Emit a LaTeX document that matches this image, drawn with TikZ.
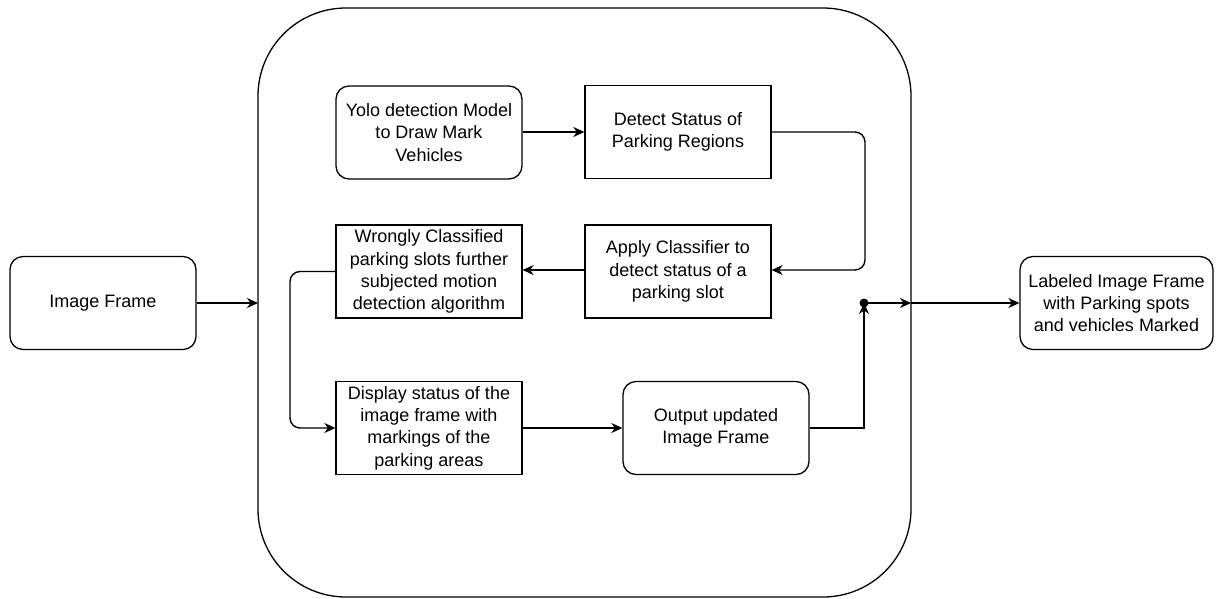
\documentclass[tikz,border=0pt]{standalone}
\usepackage{fontspec}
\setmainfont{Liberation Sans}
\usetikzlibrary{arrows.meta}
\begin{document}
\begin{tikzpicture}[x=1pt,y=-1pt,
  box/.style={draw,line width=1.3pt,minimum width=186pt,minimum height=93pt,align=center,inner sep=0pt,font=\fontsize{18}{22.3}\selectfont},
  rbox/.style={box,rounded corners=13pt},
  conn/.style={line width=1.4pt,-{Stealth[length=11pt,width=10pt,inset=3.5pt]}},
  plain/.style={line width=1.3pt}]
\useasboundingbox (0,0) rectangle (1223,598);
\draw[line width=1.3pt,rounded corners=88pt] (258,8) rectangle (911,597);
\coordinate (cl) at (258,303);
\coordinate (cr) at (911,303);
\node[rbox] (img) at (103,303) {Image Frame};
\node[rbox] (yolo) at (429,132.5) {Yolo detection Model\\to Draw Mark\\Vehicles};
\node[box] (det) at (678,132) {Detect Status of\\Parking Regions};
\node[box] (app) at (678,271.5) {Apply Classifier to\\detect status of a\\parking slot};
\node[box] (wrong) at (429,271.5) {Wrongly Classified\\parking slots further\\subjected motion\\detection algorithm};
\node[box] (disp) at (429,428) {Display status of the\\image frame with\\markings of the\\parking areas};
\node[rbox] (out) at (716,428) {Output updated\\Image Frame};
\node[rbox,minimum width=193pt] (lab) at (1116.5,303) {Labeled Image Frame\\with Parking spots\\and vehicles Marked};
\coordinate (dot) at (864,303);
\draw[conn] (img.east) -- (cl);
\draw[conn] (yolo.east |- det.west) -- (det.west);
\draw[conn,rounded corners=10pt] (det.east) -- (865,132) -- (865,270) -- (app.east |- 0,270);
\draw[conn] (app.west |- 0,270) -- (wrong.east |- 0,270);
\draw[conn,rounded corners=10pt] (wrong.west) -- (290,271.5) -- (290,428) -- (disp.west);
\draw[conn] (disp.east) -- (out.west);
\draw[conn] (out.east) -- (864,428) -- (dot);
\fill (dot) circle (4.5pt);
\draw[conn] (dot) -- (cr);
\draw[conn] (cr) -- (lab.west);
\end{tikzpicture}
\end{document}
